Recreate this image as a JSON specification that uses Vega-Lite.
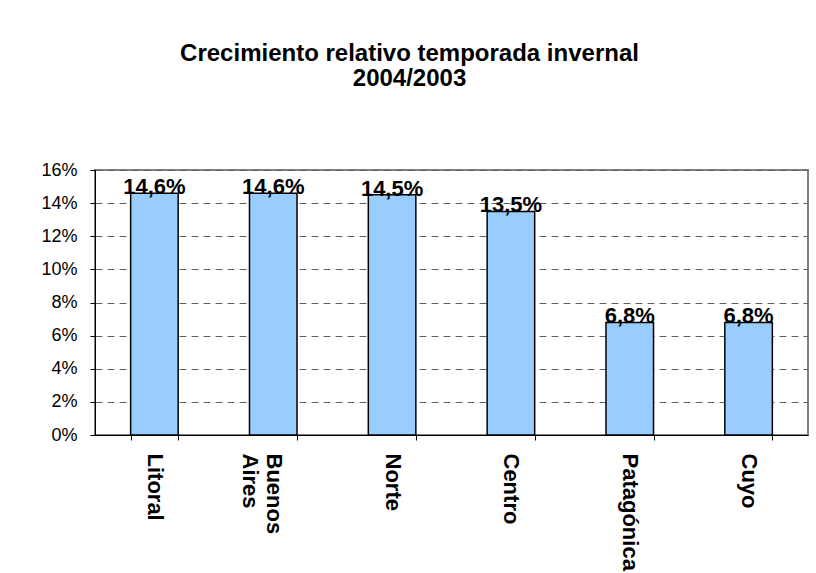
{
  "$schema": "https://vega.github.io/schema/vega-lite/v6.json",
  "width": 713,
  "height": 265,
  "autosize": {"type": "none"},
  "padding": {"left": 95, "top": 170, "right": 8, "bottom": 138},
  "background": "white",
  "title": {
    "text": ["Crecimiento relativo temporada invernal", "2004/2003"],
    "font": "Liberation Sans",
    "fontSize": 24,
    "fontWeight": "bold",
    "color": "black",
    "anchor": "middle",
    "dx": -42,
    "offset": 70,
    "lineHeight": 25
  },
  "data": {
    "values": [
      {"region": "Litoral", "value": 0.146},
      {"region": "Buenos Aires", "value": 0.146},
      {"region": "Norte", "value": 0.145},
      {"region": "Centro", "value": 0.135},
      {"region": "Patagónica", "value": 0.068},
      {"region": "Cuyo", "value": 0.068}
    ]
  },
  "encoding": {
    "x": {
      "field": "region",
      "type": "nominal",
      "sort": null,
      "title": null,
      "scale": {"paddingInner": 0.6, "paddingOuter": 0.3},
      "axis": {
        "domainColor": "black",
        "domainWidth": 1,
        "tickColor": "black",
        "tickSize": 5,
        "tickBand": "extent",
        "labelAngle": 90,
        "labelAlign": "left",
        "labelBaseline": "middle",
        "labelPadding": 13,
        "labelFont": "Liberation Sans",
        "labelFontSize": 22,
        "labelFontWeight": "bold",
        "labelColor": "black",
        "labelLineHeight": 24,
        "labelExpr": "datum.label == 'Buenos Aires' ? ['Buenos', 'Aires'] : datum.label",
        "grid": false
      }
    },
    "y": {
      "field": "value",
      "type": "quantitative",
      "title": null,
      "scale": {"domain": [0, 0.16], "nice": false},
      "axis": {
        "values": [0, 0.02, 0.04, 0.06, 0.08, 0.1, 0.12, 0.14, 0.16],
        "format": ".0%",
        "domainColor": "black",
        "tickColor": "black",
        "tickSize": 5,
        "labelPadding": 13,
        "labelFont": "Liberation Sans",
        "labelFontSize": 18,
        "labelColor": "black",
        "grid": true,
        "gridColor": "#606060",
        "gridDash": [7, 5],
        "gridWidth": 1
      }
    }
  },
  "layer": [
    {
      "mark": {"type": "bar", "fill": "#99CCFF", "stroke": "black", "strokeWidth": 1.5}
    },
    {
      "mark": {
        "type": "text",
        "baseline": "alphabetic",
        "dy": 1,
        "font": "Liberation Sans",
        "fontSize": 22,
        "fontWeight": "bold",
        "color": "black"
      },
      "encoding": {
        "text": {"field": "value", "type": "quantitative", "format": ".1%"}
      }
    }
  ],
  "config": {
    "locale": {
      "number": {"decimal": ",", "thousands": ".", "grouping": [3], "currency": ["", " €"]}
    },
    "view": {"stroke": "#808080", "strokeWidth": 2}
  }
}
